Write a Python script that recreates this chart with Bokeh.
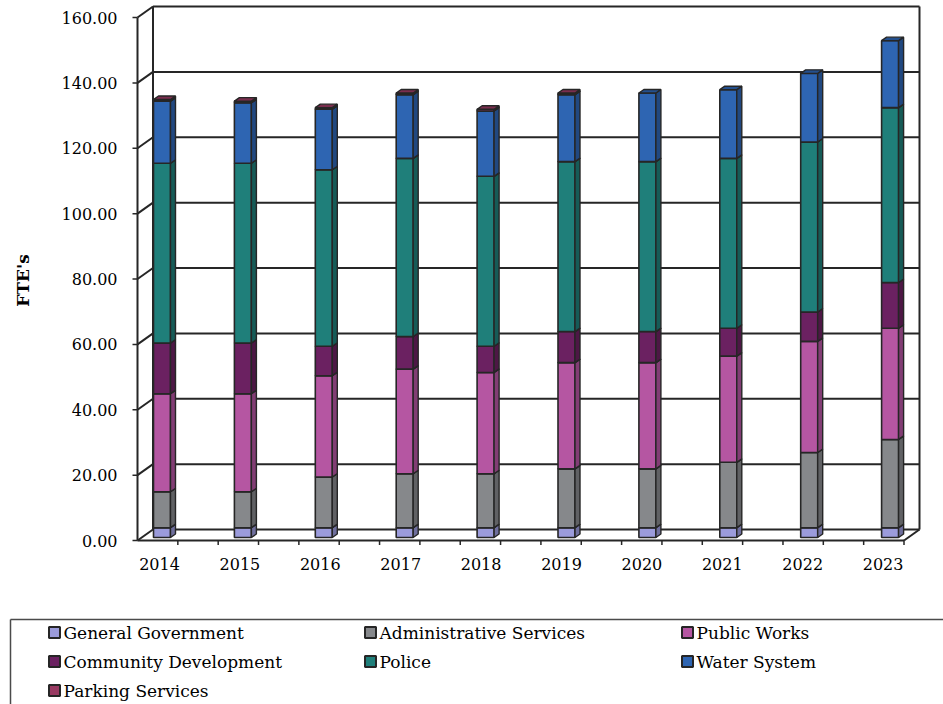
import numpy as np
from bokeh.plotting import figure
from bokeh.models import Range1d
from bokeh.embed import file_html
from bokeh.resources import INLINE
from bokeh.core.properties import value

# ---------------- data ----------------
years = ["2014", "2015", "2016", "2017", "2018", "2019", "2020", "2021", "2022", "2023"]
series_names = ["General Government", "Administrative Services", "Public Works",
                "Community Development", "Police", "Water System", "Parking Services"]
general_government = [3.0, 3.0, 3.0, 3.0, 3.0, 3.0, 3.0, 3.0, 3.0, 3.0]
administrative_services = [11.0, 11.0, 15.5, 16.5, 16.5, 18.0, 18.0, 20.0, 23.0, 27.0]
public_works = [30.0, 30.0, 31.0, 32.0, 31.0, 32.5, 32.5, 32.5, 34.0, 34.0]
community_development = [15.5, 15.5, 9.0, 10.0, 8.0, 9.5, 9.5, 8.5, 9.0, 14.0]
police = [55.0, 55.0, 54.0, 54.5, 52.0, 52.0, 52.0, 52.0, 52.0, 53.5]
water_system = [19.0, 18.5, 18.5, 19.5, 20.0, 20.5, 21.0, 21.0, 21.0, 20.5]
parking_services = [0.5, 0.5, 0.5, 0.5, 0.5, 0.5, 0.0, 0.0, 0.0, 0.0]
y_ticks = [0, 20, 40, 60, 80, 100, 120, 140, 160]
y_title = "FTE's"

series_values = [general_government, administrative_services, public_works,
                 community_development, police, water_system, parking_services]
series_colors = ["#9b9bdb", "#86888b", "#b556a2", "#6b2161", "#1f7f7a", "#2e65b2", "#993a62"]

# ---------------- layout constants (pixels) ----------------
W, H = 943, 704
AXIS_PX = 137.0
ZERO_PX = 540.0
PX_PER_FTE = 3.26875
BAR0_PX = 161.5
PITCH_PX = 80.9
WALL_DX, WALL_DY = 15.5, 11.0
FLOOR_RIGHT_PX = 903.5
BACK_RIGHT_PX = 919.0
BAR_HALF_PX = 8.5
BAR_LIFT_PX = 3.0
BAR_SIDE_DX, BAR_SIDE_DY = 5.0, 3.5
INK = "#262626"
SERIF = "DejaVu Serif"


def fx(px):
    return (np.asarray(px, dtype=float) - BAR0_PX) / PITCH_PX


def fy(py):
    return (ZERO_PX - np.asarray(py, dtype=float)) / PX_PER_FTE


def ux(dpx):
    return dpx / PITCH_PX


def uy(dpx):
    return dpx / PX_PER_FTE


def shade(hexcol, f):
    h = hexcol.lstrip("#")
    r, g, b = (int(h[i:i + 2], 16) for i in (0, 2, 4))
    return "#%02x%02x%02x" % (int(r * f), int(g * f), int(b * f))


p = figure(width=W, height=H, x_range=Range1d(float(fx(0)), float(fx(W))),
           y_range=Range1d(float(fy(H)), float(fy(0))), output_backend="svg",
           toolbar_location=None, x_axis_location=None, y_axis_location=None,
           min_border_left=0, min_border_right=0, min_border_top=0, min_border_bottom=0)
p.xgrid.visible = False
p.ygrid.visible = False
p.outline_line_color = None
p.background_fill_color = "white"

# ---------------- 3D frame ----------------
wall_dy = uy(WALL_DY)
xl_front, xl_back = float(fx(AXIS_PX)), float(fx(AXIS_PX + WALL_DX))
xr_front, xr_back = float(fx(FLOOR_RIGHT_PX)), float(fx(BACK_RIGHT_PX))
ticks = np.array(y_ticks, dtype=float)
nt = len(ticks)

# back wall gridlines
p.segment(x0=[xl_back] * nt, x1=[xr_back] * nt, y0=ticks + wall_dy, y1=ticks + wall_dy,
          line_color=INK, line_width=2)
# side wall diagonals
p.segment(x0=[xl_front] * nt, x1=[xl_back] * nt, y0=ticks, y1=ticks + wall_dy,
          line_color=INK, line_width=2)
# verticals: front axis, back-left edge, back-right edge
p.segment(x0=[xl_front, xl_back, xr_back], x1=[xl_front, xl_back, xr_back],
          y0=[ticks[0], ticks[0] + wall_dy, ticks[0] + wall_dy],
          y1=[ticks[-1], ticks[-1] + wall_dy, ticks[-1] + wall_dy],
          line_color=INK, line_width=2)
# floor front edge and right diagonal
p.segment(x0=[xl_front, xr_front], x1=[xr_front, xr_back], y0=[0, 0], y1=[0, wall_dy],
          line_color=INK, line_width=2)
# floor ticks
ftx = np.linspace(xl_front, xr_front, 20)[1:]
p.segment(x0=ftx, x1=ftx, y0=[0] * len(ftx), y1=[-uy(4.5)] * len(ftx),
          line_color=INK, line_width=1.5)
# y ticks
p.segment(x0=[float(fx(AXIS_PX - 5))] * nt, x1=[xl_front] * nt, y0=ticks, y1=ticks,
          line_color=INK, line_width=1.5)
# y tick labels
p.text(x=[float(fx(AXIS_PX - 20))] * nt, y=ticks, text=["%.2f" % t for t in y_ticks],
       text_align="right", text_baseline="middle", text_font=value(SERIF),
       text_font_size="16px", text_color="black")
# y title
p.text(x=[float(fx(22))], y=[float(fy(280))], text=[y_title], angle=np.pi / 2,
       text_align="center", text_baseline="middle", text_font=value(SERIF),
       text_font_style="bold", text_font_size="17px", text_color="black")

# ---------------- bars ----------------
n = len(years)
xs = np.arange(n, dtype=float)
hw = ux(BAR_HALF_PX)
sdx, sdy = ux(BAR_SIDE_DX), uy(BAR_SIDE_DY)
lift = uy(BAR_LIFT_PX)
base = np.zeros(n)
for vals, col in zip(series_values, series_colors):
    v = np.array(vals, dtype=float)
    m = v > 0
    b = base + lift
    t = base + v + lift
    p.quad(left=(xs - hw)[m], right=(xs + hw)[m], bottom=b[m], top=t[m],
           fill_color=col, line_color=INK, line_width=1.6)
    side_x = [[x + hw, x + hw + sdx, x + hw + sdx, x + hw] for x in xs[m]]
    side_y = [[bb, bb + sdy, tt + sdy, tt] for bb, tt in zip(b[m], t[m])]
    p.patches(side_x, side_y, fill_color=shade(col, 0.72), line_color=INK, line_width=1.4)
    top_x = [[x - hw, x + hw, x + hw + sdx, x - hw + sdx] for x in xs[m]]
    top_y = [[tt, tt, tt + sdy, tt + sdy] for tt in t[m]]
    p.patches(top_x, top_y, fill_color=shade(col, 0.8), line_color=INK, line_width=1.4)
    base = base + v

# category labels
label_x = xs * (80.4 / PITCH_PX) + fx(159.0)
p.text(x=label_x, y=[float(fy(563))] * n, text=years, text_align="center",
       text_baseline="middle", text_font=value(SERIF), text_font_size="16px",
       text_color="black")

# ---------------- legend ----------------
p.segment(x0=fx([10, 10]), x1=fx([W + 5, 10]), y0=fy([619, 619]), y1=fy([619, H + 5]),
          line_color="#4a4a4a", line_width=1.5)
col_sq = [54, 370, 687]
col_tx = [63, 379, 696]
row_y = [632, 661, 690]
lx_sq, lx_tx, ly = [], [], []
for k in range(len(series_names)):
    r, c = divmod(k, 3)
    lx_sq.append(col_sq[c])
    lx_tx.append(col_tx[c])
    ly.append(row_y[r])
p.rect(x=fx(lx_sq), y=fy(ly), width=ux(11), height=uy(11), fill_color=series_colors,
       line_color=INK, line_width=2)
p.text(x=fx(lx_tx), y=fy(ly), text=series_names, text_align="left", text_baseline="middle",
       text_font=value(SERIF), text_font_size="17px", text_color="black")

open("out.html", "w").write(file_html(p, INLINE))
